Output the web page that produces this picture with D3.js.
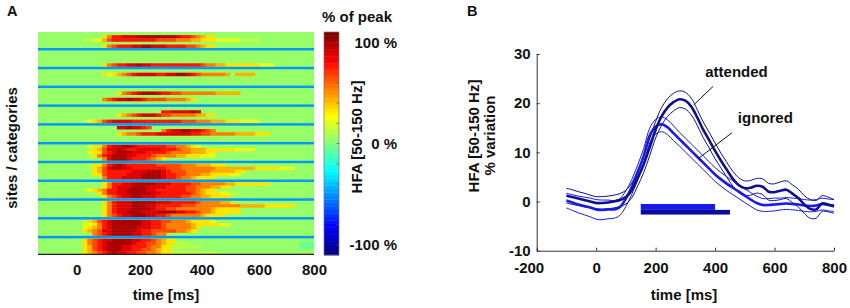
<!DOCTYPE html>
<html><head><meta charset="utf-8">
<script src="https://cdn.jsdelivr.net/npm/d3@7"></script>
<style>
body{margin:0;background:#fff}
text{font-family:"Liberation Sans",Arial,sans-serif;font-weight:bold;fill:#111}
</style></head>
<body><svg id="c" width="850" height="308"></svg>
<script>
// ---------------- DATA ----------------
// Panel A heatmap: 12 sites x 5 categories; each row "startColumn:levels" (level digit d -> d/9 of peak, 'n' slightly negative, '.' baseline)
const hmGroups = [
 ["", "13:35778889999999987765433", "9:112246777777777666655544333222221111", "", "13:35677788998887777665433"],
 ["", "", "", "", "13:35677889887777777777655443333333222"],
 ["", "13:32345678888778899876555554.4444", "", "", ""],
 ["", "16:3567899987766555555544444", "", "13:5678898876666555543", ""],
 ["", "25:77888898", "16:34567888766555554433", "", "9:123467888877777777776665554443332222"],
 ["16:8898876", "25:57889988765", "16:3455677788888887766555554444333", "", ""],
 ["10:23357889987777776655432", "11:346889877888887776554443333332222", "10:23367899988877776555544433", "10:13578999887776555544333222", "13:5899987776543"],
 ["10:1335789877777766666555444333", "11:34689988777777766655555554444444433333222", "11:3467777788899987666555554444433", "11:336777788899998776655544333322", "13:57778888999987765543333"],
 ["13:3577889999988877776655555443333333", "13:35788899988887777665554433", "9:123457788999988777777665433", "12:35778899999887777776543332211", "13:35678899888777776655443333"],
 ["13:357888999998887777765555443", "13:357888999887777766655555555544444333333", "13:3578889999877665555555433333", "13:3578899988899998877655433333", "13:3567889998877655555543333"],
 ["9:134678999999887766555433332", "9:223578999999887765555543333322", "9:234578999998887765555543", "9:34568899999877666665543", "11:567899998877655"],
 ["9:3567889999887765433", "9:3567899999877665433111 53:nnn", "9:346789998877765533111111 53:nnn", "9:34678999887766543311", "9:345678988776655433111111111"]
];
const hmTimeTicks = [0, 200, 400, 600, 800];
const cbTickLabels = [100, 0, -100];

// Panel B time courses (% variation)
const timeB = [-100,-80,-60,-40,-20,0,20,40,60,80,100,120,140,160,180,200,220,240,260,280,300,320,340,360,380,400,420,440,460,480,500,520,540,560,580,600,620,640,660,680,700,720,740,760,780,800];
const attMean = [1.2,0.9,0.6,0.3,0.0,-0.3,-0.3,-0.2,0.0,0.3,0.9,2.3,4.8,7.6,11.0,14.6,17.3,19.1,20.2,20.8,20.5,19.3,17.1,14.6,12.5,10.3,8.3,6.4,4.6,3.3,2.7,2.8,3.2,3.0,2.0,1.9,2.2,2.4,1.6,0.7,-0.6,-1.5,-1.6,-0.4,-0.6,-1.0];
const attSem  = [1.5,1.5,1.4,1.4,1.3,1.3,1.3,1.3,1.3,1.3,1.4,1.5,1.6,1.7,1.7,1.7,1.8,1.8,1.8,1.7,1.7,1.7,1.6,1.6,1.6,1.6,1.5,1.5,1.5,1.5,1.5,1.5,1.5,1.6,1.7,1.7,1.8,1.8,1.8,1.8,1.8,1.9,1.8,1.6,1.5,1.4];
const ignMean = [0.2,-0.2,-0.6,-0.9,-1.2,-1.6,-1.7,-1.6,-1.6,-1.1,0.6,3.0,6.0,9.3,13.4,15.2,15.7,15.1,13.9,12.7,11.5,10.3,9.1,7.9,6.7,5.5,4.5,3.6,2.8,2.0,1.2,0.4,-0.3,-0.7,-0.7,-0.6,-0.5,-0.4,-0.5,-0.6,-0.8,-0.9,-0.8,-0.5,-0.7,-0.8];
const ignSem  = [1.5,1.6,1.7,1.8,1.9,2.0,2.0,1.9,1.8,1.7,1.6,1.5,1.5,1.5,1.5,1.5,1.5,1.5,1.5,1.4,1.4,1.4,1.4,1.4,1.4,1.4,1.4,1.4,1.4,1.4,1.4,1.4,1.4,1.3,1.3,1.3,1.2,1.2,1.2,1.2,1.2,1.2,1.2,1.2,1.2,1.2];
const sigCond  = ["ignored", "attended"];
const sigStart = [150, 150];
const sigEnd   = [400, 450];
const bXTicks = [-200, 0, 200, 400, 600, 800];
const bYTicks = [-10, 0, 10, 20, 30];

// ---------------- DRAW ----------------
const svg = d3.select("#c");
const FS = 15;
const fmt = d => String(d);

function jet(t){
  const c = x => Math.max(0, Math.min(1, x));
  const r = c(Math.min(4*t-1.5, -4*t+4.5));
  const g = c(Math.min(4*t-0.5, -4*t+3.5));
  const b = c(Math.min(4*t+0.5, -4*t+2.5));
  return d3.rgb(r*255, g*255, b*255).formatHex();
}
const cNorm = d3.scaleLinear([-1.1, 1.1], [0, 1]).clamp(true);
const heat = v => jet(cNorm(v));

// ---- Panel A ----
const hmLeft = 38, hmRight = 314, hmTop = 32, hmBottom = 254.3;
const nCols = 56;
const nRows = hmGroups.length * 6 - 1;
const colX = d3.scaleBand(d3.range(nCols), [hmLeft, hmRight]);
const rowY = d3.scaleBand(d3.range(nRows), [hmTop, hmBottom]);
const tA = d3.scaleLinear([0, 200, 400, 600, 800], [76.7, 140, 201.7, 259, 314]);

const gA = svg.append("g");
gA.append("rect").attr("x", hmLeft).attr("y", hmTop)
  .attr("width", hmRight - hmLeft).attr("height", hmBottom - hmTop)
  .attr("fill", heat(0.05));

const cells = [];
hmGroups.forEach((grp, g) => grp.forEach((row, r) => {
  if (!row) return;
  row.split(" ").forEach(seg => {
    const [s, lv] = seg.split(":");
    const start = +s;
    [...lv].forEach((ch, k) => {
      if (ch === ".") return;
      const v = ch === "n" ? -0.05 : (+ch) / 9;
      cells.push({col: start + k, row: g * 6 + r, v});
    });
  });
}));
gA.selectAll("rect.cell").data(cells).join("rect").attr("class", "cell")
  .attr("x", d => colX(d.col)).attr("y", d => rowY(d.row))
  .attr("width", colX.bandwidth() + 0.4).attr("height", rowY.bandwidth() + 0.4)
  .attr("fill", d => heat(d.v));

const seps = d3.range(hmGroups.length - 1).map(g => g * 6 + 5);
gA.selectAll("rect.sep").data(seps).join("rect").attr("class", "sep")
  .attr("x", hmLeft).attr("width", hmRight - hmLeft)
  .attr("y", d => rowY(d) + rowY.bandwidth() * 0.12)
  .attr("height", rowY.bandwidth() * 0.78)
  .attr("fill", heat(-0.5));

// x axis of A
const axA = svg.append("g").attr("transform", `translate(0,${hmBottom})`)
  .call(d3.axisBottom(tA).tickValues(hmTimeTicks).tickFormat(fmt).tickSize(0).tickPadding(10));
axA.select(".domain").remove();
axA.selectAll("text").style("font-size", FS + "px").style("font-family", "Liberation Sans, Arial, sans-serif").style("font-weight", "bold").attr("fill", "#111");
svg.append("line").attr("x1", hmLeft).attr("x2", hmRight).attr("y1", hmBottom).attr("y2", hmBottom)
  .attr("stroke", "#222").attr("stroke-width", 1.2);

svg.append("text").attr("x", 166).attr("y", 300).attr("text-anchor", "middle").style("font-size", FS + "px").text("time [ms]");
svg.append("text").attr("transform", "translate(17,148) rotate(-90)").attr("text-anchor", "middle").style("font-size", FS + "px").text("sites / categories");
svg.append("text").attr("x", 7).attr("y", 15.5).style("font-size", "14.5px").text("A");

// colorbar
const cbX = 324, cbW = 15;
const cbY = d3.scaleLinear([-110, 110], [255, 32]);
const nLev = 64;
const levels = d3.range(nLev);
svg.append("g").selectAll("rect").data(levels).join("rect")
  .attr("x", cbX).attr("width", cbW)
  .attr("y", i => cbY(-110 + (i + 1) * 220 / nLev))
  .attr("height", (cbY(-110) - cbY(110)) / nLev + 0.4)
  .attr("fill", i => jet(i / (nLev - 1)));
svg.append("rect").attr("x", cbX).attr("y", cbY(110)).attr("width", cbW).attr("height", cbY(-110) - cbY(110))
  .attr("fill", "none").attr("stroke", "#777").attr("stroke-width", 0.7);
const cbMinor = d3.range(-100, 101, 20);
svg.append("g").selectAll("line").data(cbMinor).join("line")
  .attr("x1", cbX + cbW - 2.5).attr("x2", cbX + cbW).attr("y1", d => cbY(d)).attr("y2", d => cbY(d))
  .attr("stroke", "#555").attr("stroke-width", 0.7);
svg.append("g").selectAll("text").data(cbTickLabels).join("text")
  .attr("x", 397).attr("y", d => cbY(d)).attr("dy", "0.36em").attr("text-anchor", "end")
  .style("font-size", FS + "px").text(d => d + " %");
svg.append("text").attr("x", 357).attr("y", 22).attr("text-anchor", "middle").style("font-size", FS + "px").text("% of peak");
svg.append("text").attr("transform", "translate(361.5,137) rotate(-90)").attr("text-anchor", "middle").style("font-size", FS + "px").text("HFA [50-150 Hz]");

// ---- Panel B ----
const xB = d3.scaleLinear([-200, 800], [536.7, 834]);
const yB = d3.scaleLinear([-10, 30], [250.7, 54]);
const attColor = "#10108c", ignColor = "#1a1ae8";

const axBx = svg.append("g").attr("transform", `translate(0,${yB(-10)})`)
  .call(d3.axisBottom(xB).tickValues(bXTicks).tickFormat(fmt).tickSizeInner(-3).tickSizeOuter(0).tickPadding(11.7));
const axBy = svg.append("g").attr("transform", `translate(${xB(-200)},0)`)
  .call(d3.axisLeft(yB).tickValues(bYTicks).tickFormat(fmt).tickSizeInner(-3).tickSizeOuter(0).tickPadding(6));
[axBx, axBy].forEach(a => {
  a.selectAll("path,line").attr("stroke", "#333");
  a.selectAll("text").style("font-size", FS + "px").style("font-family", "Liberation Sans, Arial, sans-serif").style("font-weight", "bold").attr("fill", "#111");
});
axBx.selectAll(".tick text").filter(d => d === -200).attr("dx", -8);

const lineGen = d3.line().x(d => xB(d[0])).y(d => yB(d[1])).curve(d3.curveCatmullRom);
const series = [
  {m: ignMean, s: ignSem, c: ignColor},
  {m: attMean, s: attSem, c: attColor}
];
const gB = svg.append("g");
series.forEach(S => {
  const up = timeB.map((t, i) => [t, S.m[i] + S.s[i]]);
  const lo = timeB.map((t, i) => [t, S.m[i] - S.s[i]]);
  [up, lo].forEach(p => gB.append("path").attr("d", lineGen(p)).attr("fill", "none").attr("stroke", S.c).attr("stroke-width", 1));
});
series.forEach(S => {
  const mp = timeB.map((t, i) => [t, S.m[i]]);
  gB.append("path").attr("d", lineGen(mp)).attr("fill", "none").attr("stroke", S.c).attr("stroke-width", 2.6);
});

// significance bars
const barLev = {ignored: [-0.5, -1.7], attended: [-1.7, -2.65]};
svg.append("g").selectAll("rect").data(sigCond.map((c, i) => ({c, s: sigStart[i], e: sigEnd[i]}))).join("rect")
  .attr("x", d => xB(d.s)).attr("width", d => xB(d.e) - xB(d.s))
  .attr("y", d => yB(barLev[d.c][0])).attr("height", d => yB(barLev[d.c][1]) - yB(barLev[d.c][0]))
  .attr("fill", d => d.c === "ignored" ? ignColor : "#0c0c9a");

// annotations
svg.append("line").attr("x1", xB(393)).attr("y1", yB(23.4)).attr("x2", xB(328)).attr("y2", yB(19.65)).attr("stroke", "#111").attr("stroke-width", 1);
svg.append("line").attr("x1", xB(457)).attr("y1", yB(14.0)).attr("x2", xB(345)).attr("y2", yB(8.8)).attr("stroke", "#111").attr("stroke-width", 1);
svg.append("text").attr("x", xB(472)).attr("y", yB(25.3)).attr("text-anchor", "middle").style("font-size", FS + "px").text("attended");
svg.append("text").attr("x", xB(569)).attr("y", yB(15.9)).attr("text-anchor", "middle").style("font-size", FS + "px").text("ignored");

svg.append("text").attr("x", 684).attr("y", 300).attr("text-anchor", "middle").style("font-size", FS + "px").text("time [ms]");
svg.append("text").attr("transform", "translate(478.5,136) rotate(-90)").attr("text-anchor", "middle").style("font-size", FS + "px").text("HFA [50-150 Hz]");
svg.append("text").attr("transform", "translate(495,135.5) rotate(-90)").attr("text-anchor", "middle").style("font-size", FS + "px").text("% variation");
svg.append("text").attr("x", 467).attr("y", 15.5).style("font-size", "14.5px").text("B");
</script>
</body></html>
